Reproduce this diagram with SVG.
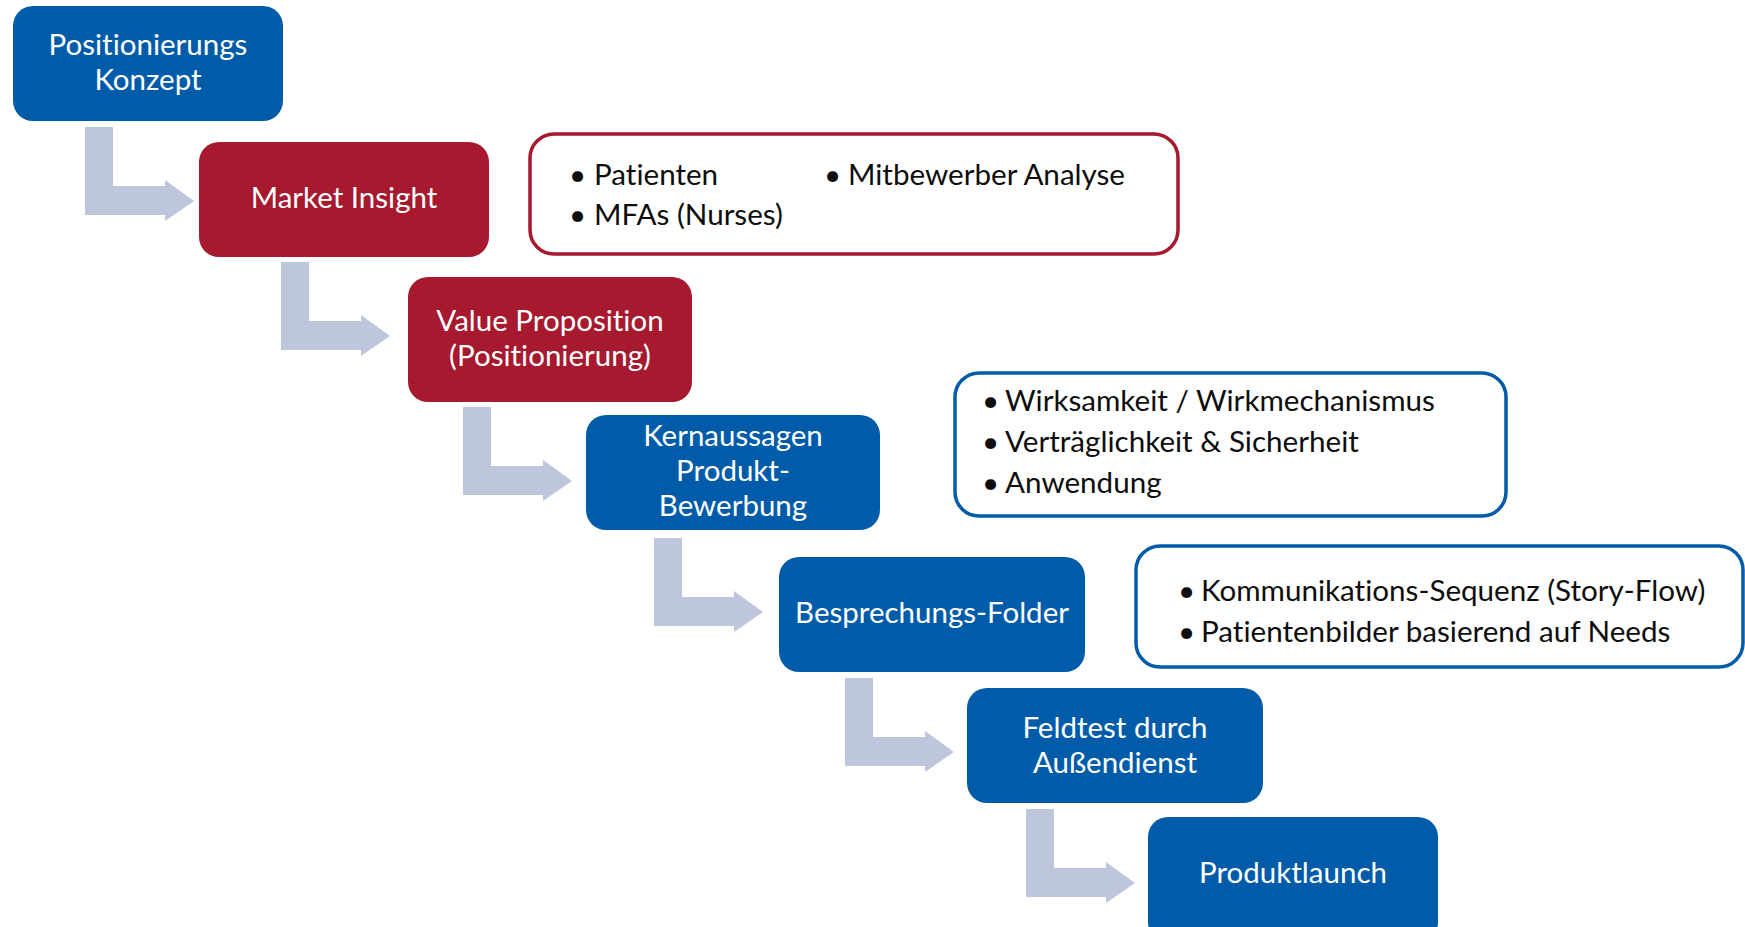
<svg xmlns="http://www.w3.org/2000/svg" width="1745" height="927" viewBox="0 0 1745 927">
<style>
  .blue { fill: #005CA9; }
  .red { fill: #A6192E; }
  text { font-variant-ligatures: none; font-feature-settings: "liga" 0, "dlig" 0; }
  .node text { font-family: Lato, "Liberation Sans", sans-serif; font-size: 29.5px; fill: #FFFFFF; text-anchor: middle; }
  .info rect { fill: #FFFFFF; stroke-width: 3.5; }
  .info text { font-family: Lato, "Liberation Sans", sans-serif; font-size: 29.6px; fill: #0D0D0D; }
  .conn { fill: #BDC6DB; }
</style>
<defs>
  <path id="elbow" d="M0,0 H28 V59 H80 V53 L109,74 L80,94 V88 H0 Z"/>
</defs>
<rect width="1745" height="927" fill="#FFFFFF"/>

<g id="connectors" class="conn">
  <use href="#elbow" transform="translate(85,127)"/>
  <use href="#elbow" transform="translate(281,262)"/>
  <use href="#elbow" transform="translate(463,407)"/>
  <use href="#elbow" transform="translate(654,538)"/>
  <use href="#elbow" transform="translate(845,678)"/>
  <use href="#elbow" transform="translate(1026,809)"/>
</g>

<g id="node-positionierungskonzept" class="node">
  <rect class="blue" x="13" y="6" width="270" height="115" rx="20"/>
  <text x="148" y="55">Positionierungs</text>
  <text x="148" y="89.5">Konzept</text>
</g>
<g id="node-market-insight" class="node">
  <rect class="red" x="199" y="142" width="290" height="115" rx="20"/>
  <text x="344" y="208">Market Insight</text>
</g>
<g id="node-value-proposition" class="node">
  <rect class="red" x="408" y="277" width="284" height="125" rx="20"/>
  <text x="550" y="331">Value Proposition</text>
  <text x="550" y="366">(Positionierung)</text>
</g>
<g id="node-kernaussagen" class="node">
  <rect class="blue" x="586" y="415" width="294" height="115" rx="20"/>
  <text x="733" y="446">Kernaussagen</text>
  <text x="733" y="481">Produkt-</text>
  <text x="733" y="516">Bewerbung</text>
</g>
<g id="node-besprechungs-folder" class="node">
  <rect class="blue" x="779" y="557" width="306" height="115" rx="20"/>
  <text x="932" y="623">Besprechungs-Folder</text>
</g>
<g id="node-feldtest" class="node">
  <rect class="blue" x="967" y="688" width="296" height="115" rx="20"/>
  <text x="1115" y="738">Feldtest durch</text>
  <text x="1115" y="773">Außendienst</text>
</g>
<g id="node-produktlaunch" class="node">
  <rect class="blue" x="1148" y="817" width="290" height="125" rx="20"/>
  <text x="1293" y="883">Produktlaunch</text>
</g>

<g id="info-market-insight" class="info">
  <rect x="530" y="134" width="648" height="120" rx="24" stroke="#A6192E"/>
  <text y="185"><tspan x="569">•</tspan><tspan x="594">Patienten</tspan></text>
  <text y="225"><tspan x="569">•</tspan><tspan x="594">MFAs (Nurses)</tspan></text>
  <text y="185"><tspan x="824">•</tspan><tspan x="848">Mitbewerber Analyse</tspan></text>
</g>
<g id="info-kernaussagen" class="info">
  <rect x="955" y="373" width="551" height="143" rx="24" stroke="#005CA9"/>
  <text y="411"><tspan x="982">•</tspan><tspan x="1005">Wirksamkeit / Wirkmechanismus</tspan></text>
  <text y="452"><tspan x="982">•</tspan><tspan x="1005">Verträglichkeit &amp; Sicherheit</tspan></text>
  <text y="493"><tspan x="982">•</tspan><tspan x="1005">Anwendung</tspan></text>
</g>
<g id="info-besprechungs-folder" class="info">
  <rect x="1136" y="546" width="607" height="121" rx="24" stroke="#005CA9"/>
  <text y="601"><tspan x="1178">•</tspan><tspan x="1201">Kommunikations-Sequenz (Story-Flow)</tspan></text>
  <text y="642"><tspan x="1178">•</tspan><tspan x="1201">Patientenbilder basierend auf Needs</tspan></text>
</g>
</svg>
